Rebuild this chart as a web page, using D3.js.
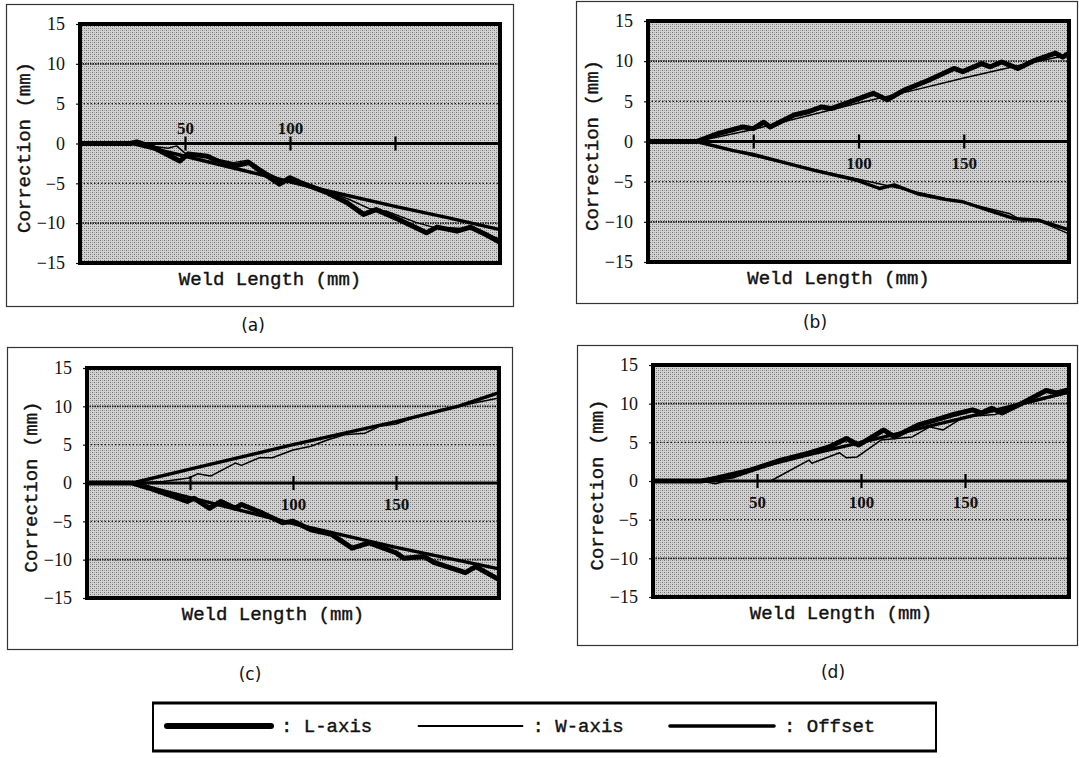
<!DOCTYPE html>
<meta charset="utf-8">
<title>Weld Length vs Correction</title>
<style>
  body { margin: 0; background: #fff; }
  text { font-family: "Liberation Mono", monospace; fill: #111; }
</style>
<svg width="1079" height="758"></svg>
<script src="https://d3js.org/d3.v7.min.js"></script>
<script>

// axis values
var xTicks = [50, 100, 150, 200];
var yTicks = [-15, -10, -5, 0, 5, 10, 15];
var gridVals = [-10, -5, 5, 10];

// legend
var seriesNames = ["L-axis", "W-axis", "Offset"];

// (a) weld length (mm), correction (mm)
var aL = [[0,0],[24,0],[27,0.2],[35,-0.5],[47.5,-2.2],[51.5,-1.3],[60.7,-1.6],[67,-2.4],[74,-2.8],[80.5,-2.4],[87,-3.7],[95,-5.1],[100,-4.3],[105,-4.9],[117,-6.1],[127,-7.4],[135,-8.9],[141,-8.3],[151.5,-9.5],[165,-11.2],[170,-10.5],[179.5,-11.0],[186,-10.5],[193,-11.4],[200,-12.4]];
var aW = [[0,0],[24,0],[42,-0.6],[46,-0.3],[50,-1.2],[58,-1.4],[66,-2.0],[73,-2.4],[80,-2.1],[90,-3.8],[97,-4.7],[102,-4.5],[115,-5.7],[128,-7.0],[138,-8.2],[146,-8.5],[160,-9.9],[168,-10.5],[178,-10.6],[188,-10.8],[200,-12.0]];
var aO = [[0,0],[25,0],[50,-1.6],[75,-3.2],[100,-4.8],[117,-5.9],[150,-7.9],[175,-9.3],[200,-10.8]];

// (b)
var bL = [[0,0],[23,0],[33.5,1.0],[45,1.8],[50,1.6],[55,2.4],[58,1.8],[69.4,3.3],[76,3.7],[82.5,4.3],[87,4.1],[95.6,4.9],[107,6.0],[113.6,5.2],[121.7,6.4],[133,7.6],[145.4,9.1],[149.5,8.7],[158.5,9.7],[162.6,9.3],[168,9.9],[175.7,9.1],[183.8,10.1],[193.6,11.0],[197,10.5],[200,11.0]];
var bW = [[0,0],[23,0],[50,1.5],[100,4.8],[125,6.3],[150,7.9],[175,9.4],[200,10.8]];
var bO = [[0,0],[23,0],[40,-1.1],[50,-1.6],[63,-2.5],[79,-3.6],[99,-4.8],[110,-5.85],[117,-5.4],[128,-6.5],[141,-7.2],[149.5,-7.5],[164,-8.75],[174,-9.6],[185.5,-9.8],[200,-11.0]];
var bWlow = [[0,0],[23,0],[50,-1.8],[100,-4.7],[150,-7.6],[172,-9.0],[178,-9.9],[184,-9.7],[200,-11.5]];

// (c)
var cL = [[0,0],[22,0],[30,-0.65],[48.7,-2.4],[52,-2.0],[59.5,-3.3],[65,-2.4],[72,-3.3],[75,-2.8],[85,-3.9],[95,-5.2],[100,-5.0],[108.7,-6.1],[118.7,-6.7],[128.7,-8.5],[137,-7.8],[150,-9.1],[153.7,-9.8],[163.7,-9.6],[168.7,-10.4],[183.7,-11.7],[188.7,-10.9],[200,-12.6]];
var cW = [[0,0],[22,0],[37,0.2],[49.5,0.65],[53.7,1.2],[60,0.9],[72,2.6],[75,2.3],[83.7,3.3],[90,3.3],[100,4.3],[108.7,4.8],[117,5.65],[125,6.3],[135,6.5],[142,7.4],[150,7.7],[158.7,8.5],[172,9.6],[183.7,10.2],[200,11.1]];
var cO = [[0,0],[22,0],[50,1.8],[100,5.0],[150,8.0],[180,10.0],[200,11.8]];
var cOlow = [[0,0],[22,0],[50,-1.9],[100,-5.3],[150,-8.4],[200,-11.2]];

// (d)
var dL = [[0,0],[23,0],[38,0.6],[48,1.5],[61.5,2.7],[74.8,3.6],[84.7,4.4],[93,5.5],[98.8,4.65],[111,6.6],[116,5.7],[128,7.3],[136,7.9],[144.5,8.6],[153.6,9.2],[157.8,8.8],[162.8,9.4],[167.8,8.8],[177.7,10.1],[189,11.7],[194,11.4],[200,11.8]];
var dW = [[0,0],[23,0],[30,-0.35],[35,0],[56.5,0],[75,2.7],[76.4,2.3],[89.7,3.65],[93,3.0],[98,3.1],[109.6,5.3],[124.6,5.7],[133,7.0],[139.5,6.6],[149.5,8.3],[164.5,8.6],[177.7,9.9],[200,11.4]];
var dO = [[0,0],[23,0],[50,1.7],[75,3.4],[100,5.0],[150,8.2],[200,11.5]];

var lineWidth = { "L-axis": 5, "W-axis": 1.5, "Offset": 3.4 };

var panels = [
  { cap: "(a)", box: [6, 4, 513, 306], plot: [80, 24, 500, 263], capAt: [253, 325],
    shown: [50, 100], above: true,
    lines: [["L-axis", aL], ["Offset", aO], ["W-axis", aW]] },
  { cap: "(b)", box: [576, 1, 1077, 303], plot: [648, 21, 1069, 262], capAt: [815, 322],
    shown: [100, 150], above: false,
    lines: [["L-axis", bL], ["Offset", bO], ["W-axis", bW], ["W-axis", bWlow]] },
  { cap: "(c)", box: [7, 347, 512, 649], plot: [87, 368, 499, 598], capAt: [250, 674],
    shown: [100, 150], above: false,
    lines: [["L-axis", cL], ["Offset", cO], ["Offset", cOlow], ["W-axis", cW]] },
  { cap: "(d)", box: [577, 345, 1077, 645], plot: [653, 365, 1069, 597], capAt: [833, 672],
    shown: [50, 100, 150], above: false,
    lines: [["L-axis", dL], ["Offset", dO], ["W-axis", dW]] }
];

var svg = d3.select("svg");

// screened grey like the printed original
var pat = svg.append("defs").append("pattern")
    .attr("id", "screen")
    .attr("width", 4).attr("height", 4)
    .attr("patternUnits", "userSpaceOnUse");
pat.append("rect").attr("width", 4).attr("height", 4).attr("fill", "#d2d2d2");
[[0, 0, "#707070"], [2, 2, "#707070"], [2, 0, "#a6a6a6"], [0, 2, "#a6a6a6"]].forEach(function(c) {
    pat.append("rect").attr("x", c[0]).attr("y", c[1]).attr("width", 1).attr("height", 1).attr("fill", c[2]);
});

panels.forEach(function(p) {
    var g = svg.append("g");
    var L = p.plot[0], T = p.plot[1], R = p.plot[2], B = p.plot[3];

    var x = d3.scaleLinear().domain([0, 200]).range([L, R]);
    var y = d3.scaleLinear().domain([-15, 15]).range([B, T]);

    // outer frame
    g.append("rect")
        .attr("x", p.box[0] + 0.5).attr("y", p.box[1] + 0.5)
        .attr("width", p.box[2] - p.box[0]).attr("height", p.box[3] - p.box[1])
        .attr("fill", "none").attr("stroke", "#333").attr("stroke-width", 1.2);

    g.append("rect")
        .attr("x", L).attr("y", T).attr("width", R - L).attr("height", B - T)
        .attr("fill", "url(#screen)");

    // dotted grid
    g.selectAll(".grid").data(gridVals).enter().append("line")
        .attr("x1", L).attr("x2", R)
        .attr("y1", function(d) { return y(d); })
        .attr("y2", function(d) { return y(d); })
        .attr("stroke", "#1a1a1a")
        .attr("stroke-width", function(d) { return Math.abs(d) == 10 ? 1.6 : 1.1; })
        .attr("stroke-dasharray", function(d) { return Math.abs(d) == 10 ? "1.5,1" : "1.5,2"; });

    // y axis labels + small ticks
    var yAxis = d3.axisLeft(y).tickValues(yTicks).tickSize(4).tickPadding(11);
    var ya = g.append("g").attr("transform", "translate(" + L + ",0)").call(yAxis);
    ya.select(".domain").remove();
    ya.selectAll("line").attr("stroke", "#111").attr("stroke-width", 1.2);
    ya.selectAll("text")
        .style("font-family", "Liberation Serif, serif")
        .style("font-size", "18px").style("fill", "#111");

    // x axis along zero
    var xAxis = d3.axisBottom(x).tickValues(xTicks).tickSize(7).tickPadding(0);
    var xa = g.append("g").attr("transform", "translate(0," + y(0) + ")").call(xAxis);
    xa.select(".domain").remove();
    xa.selectAll("line").attr("y1", -7).attr("stroke", "#000").attr("stroke-width", 2.2);
    xa.selectAll("text")
        .style("font-family", "Liberation Serif, serif")
        .style("font-weight", "bold")
        .style("font-size", "17px").style("fill", "#111")
        .attr("dy", null)
        .attr("y", p.above ? -10 : 27)
        .style("display", function(d) { return p.shown.indexOf(d) >= 0 ? null : "none"; });

    g.append("line")
        .attr("x1", L).attr("x2", R)
        .attr("y1", y(0)).attr("y2", y(0))
        .attr("stroke", "#000").attr("stroke-width", 3.2);

    // series
    var line = d3.line()
        .x(function(d) { return x(d[0]); })
        .y(function(d) { return y(d[1]); });

    p.lines.forEach(function(s) {
        g.append("path")
            .datum(s[1])
            .attr("d", line)
            .attr("fill", "none")
            .attr("stroke", "#000")
            .attr("stroke-width", lineWidth[s[0]])
            .attr("stroke-linejoin", "round");
    });

    // plot border
    g.append("rect")
        .attr("x", L).attr("y", T).attr("width", R - L).attr("height", B - T)
        .attr("fill", "none").attr("stroke", "#000").attr("stroke-width", 4);

    // titles
    g.append("text")
        .attr("x", (L + R) / 2 - 20).attr("y", B + 22)
        .attr("text-anchor", "middle")
        .attr("font-size", 19)
        .attr("stroke", "#111").attr("stroke-width", 0.4)
        .text("Weld Length (mm)");

    g.append("text")
        .attr("transform", "translate(" + (L - 50) + "," + ((T + B) / 2 + 4) + ") rotate(-90)")
        .attr("text-anchor", "middle")
        .attr("font-size", 19)
        .attr("stroke", "#111").attr("stroke-width", 0.4)
        .text("Correction (mm)");

    g.append("text")
        .attr("x", p.capAt[0]).attr("y", p.capAt[1] + 6)
        .attr("text-anchor", "middle")
        .style("font-family", "DejaVu Sans, sans-serif")
        .attr("font-size", 17)
        .text(p.cap);
});

// legend
var leg = svg.append("g");
leg.append("rect")
    .attr("x", 153).attr("y", 703).attr("width", 783).attr("height", 48)
    .attr("fill", "#fff").attr("stroke", "#000").attr("stroke-width", 2);
leg.append("line").attr("x1", 152).attr("x2", 937).attr("y1", 703).attr("y2", 703)
    .attr("stroke", "#000").attr("stroke-width", 3);
leg.append("line").attr("x1", 152).attr("x2", 937).attr("y1", 751).attr("y2", 751)
    .attr("stroke", "#000").attr("stroke-width", 3);

var legX = d3.scalePoint().domain(seriesNames).range([167, 670]);

var item = leg.selectAll(".item").data(seriesNames).enter().append("g")
    .attr("transform", function(d) { return "translate(" + legX(d) + ",726)"; });
item.append("line")
    .attr("x1", 0).attr("x2", 104).attr("y1", 0).attr("y2", 0)
    .attr("stroke", "#000")
    .attr("stroke-linecap", "round")
    .attr("stroke-width", function(d) { return d == "L-axis" ? 6 : d == "W-axis" ? 1.8 : 3.6; });
item.append("text")
    .attr("x", 114).attr("y", 6)
    .attr("font-size", 19)
    .attr("stroke", "#111").attr("stroke-width", 0.4)
    .text(function(d) { return ": " + d; });

</script>
